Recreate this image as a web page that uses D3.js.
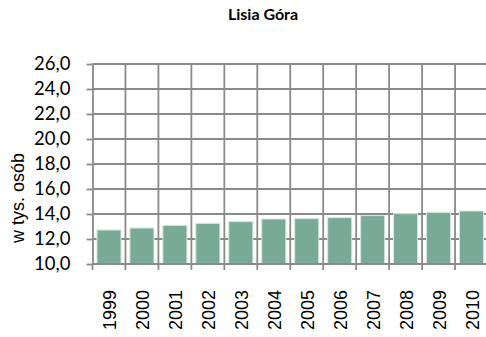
<!DOCTYPE html>
<html>
<head>
<meta charset="utf-8">
<script src="https://cdn.jsdelivr.net/npm/d3@7"></script>
<style>
  html, body { margin: 0; padding: 0; background: #fff; }
  svg { display: block; }
</style>
</head>
<body>
<script>
// Ludność gminy Lisia Góra (tys. osób)
const years = ["1999","2000","2001","2002","2003","2004","2005","2006","2007","2008","2009","2010"];
const population = [12.72, 12.88, 13.09, 13.25, 13.39, 13.60, 13.63, 13.71, 13.87, 14.03, 14.13, 14.24];
const yTicks = [10, 12, 14, 16, 18, 20, 22, 24, 26];

const W = 486, H = 337;
const margin = { top: 64, right: -2, bottom: 73, left: 92.5 };

const svg = d3.select("body").append("svg").attr("width", W).attr("height", H);

const x = d3.scaleBand().domain(years)
  .range([margin.left, W - margin.right]).paddingInner(0.27).paddingOuter(0.135);
const xEdges = d3.scaleLinear().domain([0, years.length])
  .range([margin.left, W - margin.right]);
const y = d3.scaleLinear().domain([10, 26]).range([H - margin.bottom, margin.top]);

const gridColor = "#8a8a8a";

// horizontal grid
svg.append("g").selectAll("line").data(yTicks.slice(1)).join("line")
  .attr("x1", margin.left).attr("x2", W)
  .attr("y1", d => y(d)).attr("y2", d => y(d))
  .attr("stroke", gridColor).attr("stroke-width", 1.8);

// vertical grid between categories
svg.append("g").selectAll("line").data(d3.range(1, years.length + 1)).join("line")
  .attr("x1", d => xEdges(d)).attr("x2", d => xEdges(d))
  .attr("y1", y(26)).attr("y2", y(10) + 6)
  .attr("stroke", gridColor).attr("stroke-width", 1.8);

// bars
svg.append("g").selectAll("rect").data(years).join("rect")
  .attr("x", d => x(d))
  .attr("width", x.bandwidth())
  .attr("y", (d, i) => y(population[i]))
  .attr("height", (d, i) => y(10) - y(population[i]))
  .attr("fill", "#79aa97")
  .attr("stroke", "#d6e6df").attr("stroke-width", 1);

// y axis
const yAxis = d3.axisLeft(y).tickValues(yTicks)
  .tickFormat(d => d3.format(".1f")(d).replace(".", ","))
  .tickSize(6).tickSizeOuter(0).tickPadding(16);
const gy = svg.append("g").attr("transform", `translate(${margin.left},0)`).call(yAxis);
gy.select(".domain").attr("stroke", gridColor).attr("stroke-width", 1.8);
gy.selectAll(".tick line").attr("stroke", gridColor).attr("stroke-width", 1.8);
gy.selectAll(".tick text")
  .attr("font-family", "Lato, 'Open Sans', sans-serif")
  .attr("font-size", 18.5).attr("fill", "#000");

// x axis baseline + ticks
svg.append("line")
  .attr("x1", margin.left).attr("x2", W)
  .attr("y1", y(10)).attr("y2", y(10))
  .attr("stroke", gridColor).attr("stroke-width", 1.8);
svg.append("line")
  .attr("x1", margin.left).attr("x2", margin.left)
  .attr("y1", y(10)).attr("y2", y(10) + 6)
  .attr("stroke", gridColor).attr("stroke-width", 1.8);

// year labels, rotated
const yearSize = 18;
svg.append("g").selectAll("text").data(years).join("text")
  .attr("transform", d => `translate(${x(d) + x.bandwidth() / 2 + 0.36 * yearSize + 1},${y(10) + 26}) rotate(-90)`)
  .attr("text-anchor", "end")
  .attr("font-family", "'Liberation Sans', Arial, sans-serif")
  .attr("font-size", yearSize).attr("fill", "#000")
  .text(d => d);

// y axis title
svg.append("text")
  .attr("transform", `translate(24,198) rotate(-90)`)
  .attr("text-anchor", "middle")
  .attr("font-family", "'Liberation Sans', Arial, sans-serif")
  .attr("font-size", 18).attr("fill", "#000")
  .text("w tys. osób");

// title
svg.append("text")
  .attr("x", 263).attr("y", 20)
  .attr("text-anchor", "middle")
  .attr("font-family", "Lato, 'Open Sans', sans-serif")
  .attr("font-weight", "bold")
  .attr("font-size", 16).attr("fill", "#000")
  .text("Lisia Góra");
</script>
</body>
</html>
